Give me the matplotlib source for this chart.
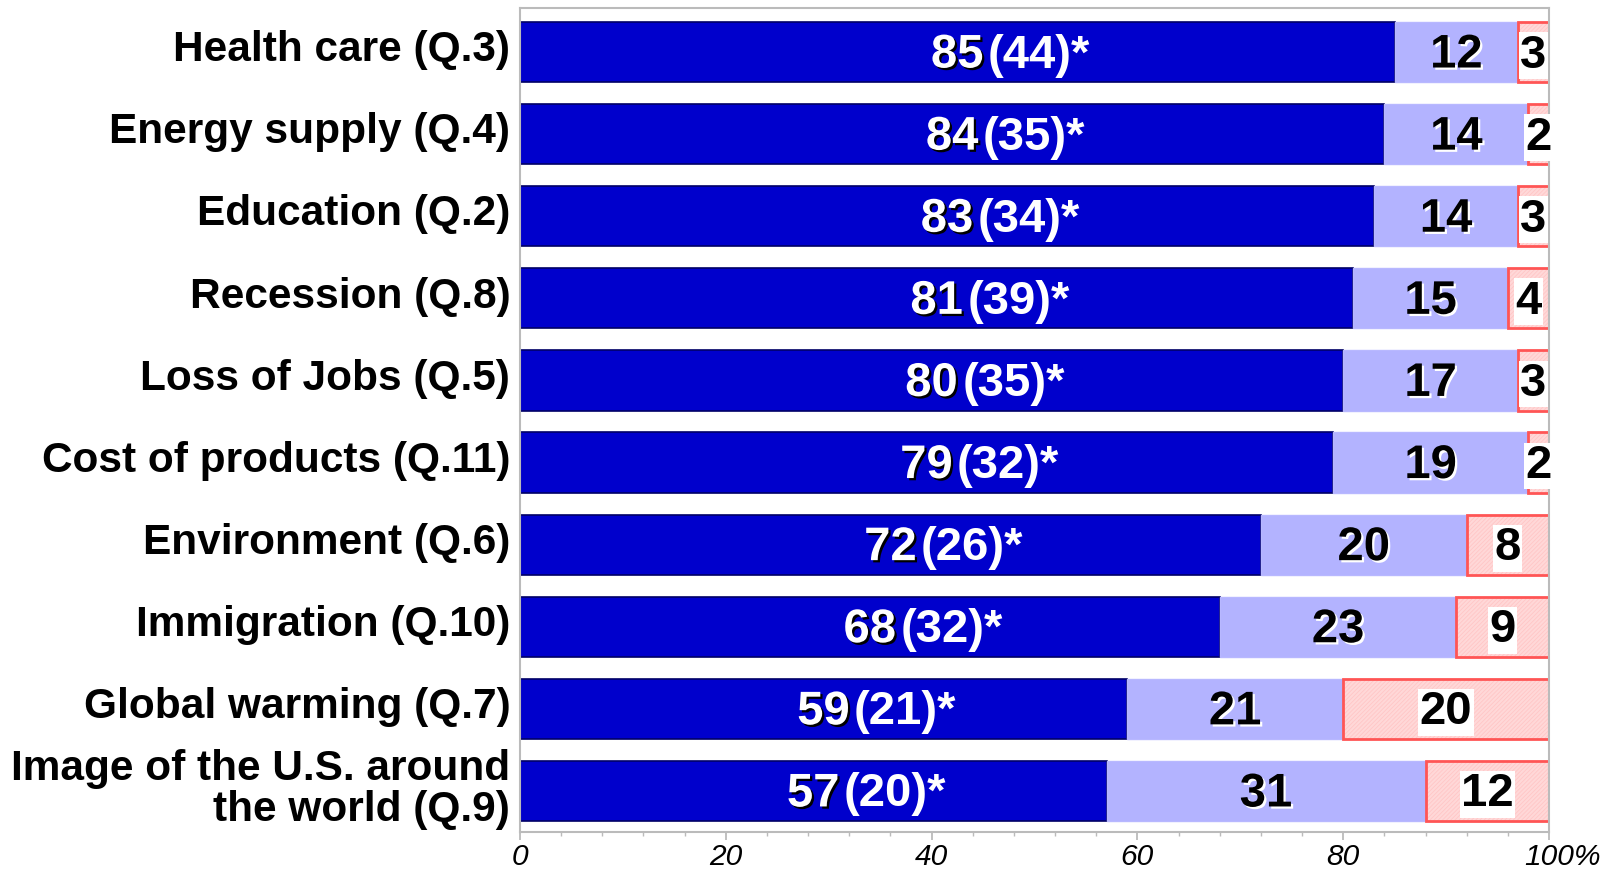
import matplotlib
matplotlib.use("Agg")
import matplotlib.pyplot as plt
import matplotlib.patheffects as pe
from matplotlib.ticker import MultipleLocator, FixedLocator
from matplotlib.transforms import ScaledTranslation

plt.rcParams['font.family'] = ['Liberation Sans', 'DejaVu Sans']
plt.rcParams['hatch.linewidth'] = 0.6

categories = ["Health care (Q.3)", "Energy supply (Q.4)", "Education (Q.2)",
              "Recession (Q.8)", "Loss of Jobs (Q.5)", "Cost of products (Q.11)",
              "Environment (Q.6)", "Immigration (Q.10)", "Global warming (Q.7)",
              "Image of the U.S. around\nthe world (Q.9)"]
serious = [85, 84, 83, 81, 80, 79, 72, 68, 59, 57]
serious_paren = [44, 35, 34, 39, 35, 32, 26, 32, 21, 20]
moderate = [12, 14, 14, 15, 17, 19, 20, 23, 21, 31]
none_ = [3, 2, 3, 4, 3, 2, 8, 9, 20, 12]
xticks = [0, 20, 40, 60, 80, 100]
xticklabels = ["0", "20", "40", "60", "80", "100"]

DARK = "#0000CC"
LIGHT = "#B3B3FF"
PINK = "#FFD8D8"
RED = "#FF5555"
GRAY = "#BBBBBB"

fig = plt.figure(figsize=(16.19, 8.71), dpi=100)
ax = fig.add_axes([520/1619, 1-832/871, (1549-520)/1619, (832-8)/871])

y = list(range(len(categories)))
h = 0.734
left2 = [a for a in serious]
left3 = [a + b for a, b in zip(serious, moderate)]

ax.barh(y, serious, height=h, color=DARK, edgecolor="#000066", linewidth=1.2)
ax.barh(y, moderate, left=left2, height=h, color=LIGHT, edgecolor="#B8B8FF", linewidth=1.0)
ax.barh(y, none_, left=left3, height=h, color=PINK, edgecolor="#FFC6C6", linewidth=0, hatch="////////")
ax.barh(y, none_, left=left3, height=h, color="none", edgecolor=RED, linewidth=2.0)

ax.set_xlim(0, 100)
ax.set_ylim(9.5, -0.536)

FS = 34
digit_off = -0.716 * FS / 2 + 1.0

for i in y:
    # dark segment label
    xc = serious[i] / 2
    t = ax.annotate(str(serious[i]), xy=(xc, i), xytext=(0, digit_off), textcoords="offset points",
                    ha="center", va="baseline", fontsize=FS, fontweight="bold", color="white",
                    path_effects=[pe.SimplePatchShadow(offset=(1.6, -1.6), shadow_rgbFace="black", alpha=1.0), pe.Normal()])
    ax.annotate("(%d)*" % serious_paren[i], xy=(1, 0), xycoords=t, xytext=(3, 0), textcoords="offset points",
                ha="left", va="bottom", fontsize=FS, fontweight="bold", color="white")
    # moderate
    xc = left2[i] + moderate[i] / 2
    ax.annotate(str(moderate[i]), xy=(xc, i), xytext=(0, digit_off), textcoords="offset points",
                ha="center", va="baseline", fontsize=FS, fontweight="bold", color="black",
                path_effects=[pe.SimplePatchShadow(offset=(1.6, -1.6), shadow_rgbFace="white", alpha=1.0), pe.Normal()])
    # none
    xc = left3[i] + none_[i] / 2
    ax.annotate(str(none_[i]), xy=(xc, i), xytext=(0, digit_off), textcoords="offset points",
                ha="center", va="baseline", fontsize=FS, fontweight="bold", color="black",
                bbox=dict(facecolor="white", edgecolor="none", pad=1))

ax.set_yticks(y)
ax.set_yticklabels(categories, fontsize=30.5, fontweight="bold")
ax.tick_params(axis="y", length=0, pad=7)

ax.xaxis.set_major_locator(FixedLocator(xticks))
ax.set_xticklabels(xticklabels, fontsize=21.5, fontstyle="italic")
ax.xaxis.set_minor_locator(MultipleLocator(4))
ax.tick_params(axis="x", which="major", length=6, width=1.3, color=GRAY, pad=2, direction="out")
ax.tick_params(axis="x", which="minor", length=3, width=1.0, color=GRAY, direction="out")
ax.annotate("%", xy=(100, 0), xycoords=("data", "axes fraction"), xytext=(0.834 * 21.5, -8.0),
            textcoords="offset points", ha="left", va="top", fontsize=21.5, fontstyle="italic")

shift = ScaledTranslation(0, 4.5 / 72, fig.dpi_scale_trans)
for lab in ax.get_yticklabels():
    lab.set_linespacing(1.02)
    lab.set_transform(lab.get_transform() + shift)

for s in ax.spines.values():
    s.set_color(GRAY)
    s.set_linewidth(1.5)

fig.savefig("out.png", dpi=100)
